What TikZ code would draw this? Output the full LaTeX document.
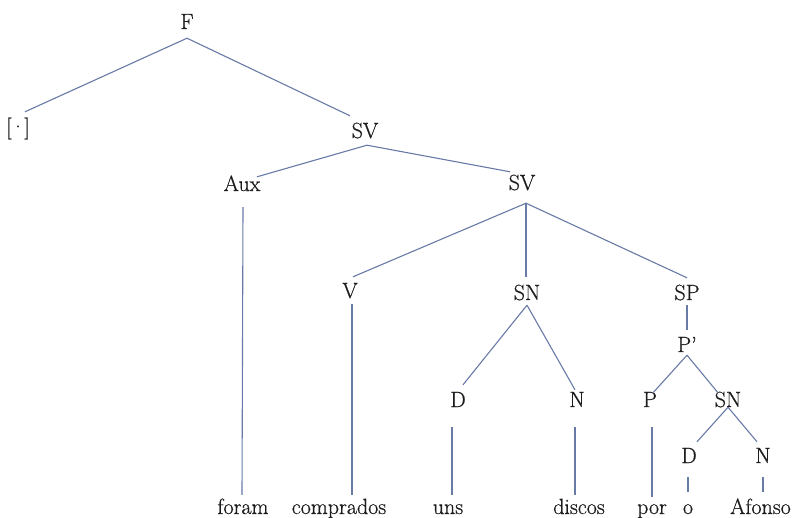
\documentclass[tikz,border=0pt]{standalone}
\usepackage{fontspec}
\usetikzlibrary{calc}
\newfontfamily\treefont{Latin Modern Roman}[Ligatures=TeX,FakeBold=0.6]
\definecolor{branch}{RGB}{104,122,166}
\definecolor{ink}{RGB}{28,28,28}
\begin{document}
\begin{tikzpicture}[x=1pt,y=-1pt,
  lab/.style={anchor=base,inner sep=0pt,text height=15pt,text depth=0pt,
              text=ink,font=\treefont\fontsize{22}{26}\selectfont},
  edge/.style={draw=branch,line width=1.1pt}]
\fill[white] (0,0) rectangle (792,518);
\useasboundingbox (0,0) rectangle (792,518);

% category labels
\node[lab] (F)    at (187,29)  {F};
\node[lab] (neg)  at (18,134)  {[\kern-1.5pt·\kern-1.5pt]};
\node[lab] (sva)  at (365,138) {SV};
\node[lab] (aux)  at (242,191) {Aux};
\node[lab] (svb)  at (522,190) {SV};
\node[lab] (v)    at (350,298) {V};
\node[lab] (sna)  at (527,300) {SN};
\node[lab] (sp)   at (687,300) {SP};
\node[lab] (pbar) at (687,352) {P'};
\node[lab] (da)   at (458,407) {D};
\node[lab] (na)   at (577,407) {N};
\node[lab] (p)    at (650,407) {P};
\node[lab] (snb)  at (728,407) {SN};
\node[lab] (db)   at (689,463) {D};
\node[lab] (nb)   at (763,463) {N};

% terminal words
\node[lab] (w1) at (243,514) {foram};
\node[lab] (w2) at (339,514) {comprados};
\node[lab] (w3) at (448,514) {uns};
\node[lab] (w4) at (579,514) {discos};
\node[lab] (w5) at (652,514) {por};
\node[lab] (w6) at (688,514) {o};
\node[lab,anchor=base east] (w7) at (791,514) {Afonso};

% branches
\path[edge] ([shift={(0pt,-9pt)}]F.south) -- ([shift={(7pt,7pt)}]neg.north);
\path[edge] ([shift={(0pt,-9pt)}]F.south) -- ([shift={(-15pt,7pt)}]sva.north);
\path[edge] ([shift={(2pt,-7pt)}]sva.south) -- ([shift={(15pt,-1pt)}]aux.north);
\path[edge] ([shift={(2pt,-7pt)}]sva.south) -- ([shift={(-12pt,3pt)}]svb.north);
\path[edge] ([shift={(1pt,-16pt)}]aux.south) -- ([shift={(-1pt,4pt)}]w1.north);
\path[edge] ([shift={(4pt,-13pt)}]svb.south) -- ([shift={(3pt,6pt)}]v.north);
\path[edge] ([shift={(4pt,-13pt)}]svb.south) -- ([shift={(-1pt,8pt)}]sna.north);
\path[edge] ([shift={(4pt,-13pt)}]svb.south) -- ([shift={(0pt,7pt)}]sp.north);
\path[edge] ([shift={(2pt,-6pt)}]v.south) -- ([shift={(13pt,4pt)}]w2.north);
\path[edge] ([shift={(0pt,-5pt)}]sna.south) -- ([shift={(5pt,7pt)}]da.north);
\path[edge] ([shift={(0pt,-5pt)}]sna.south) -- ([shift={(-2pt,2pt)}]na.north);
\path[edge] ([shift={(-6pt,-20pt)}]da.south) -- ([shift={(4pt,4pt)}]w3.north);
\path[edge] ([shift={(-2pt,-20pt)}]na.south) -- ([shift={(-4pt,4pt)}]w4.north);
\path[edge] ([shift={(0pt,-5pt)}]sp.south) -- ([shift={(0pt,7pt)}]pbar.north);
\path[edge] ([shift={(0pt,-3pt)}]pbar.south) -- ([shift={(3pt,-1pt)}]p.north);
\path[edge] ([shift={(0pt,-3pt)}]pbar.south) -- ([shift={(-10pt,-1pt)}]snb.north);
\path[edge] ([shift={(2pt,-20pt)}]p.south) -- ([shift={(0pt,2pt)}]w5.north);
\path[edge] (snb.south) -- ([shift={(8pt,6pt)}]db.north);
\path[edge] (snb.south) -- ([shift={(-6pt,6pt)}]nb.north);
\path[edge] ([shift={(-1pt,-14pt)}]db.south) -- ([shift={(0pt,7pt)}]w6.north);
\path[edge] ([shift={(0pt,-14pt)}]nb.south) -- ($(nb.south |- w7.north)+(0pt,7pt)$);
\end{tikzpicture}
\end{document}
